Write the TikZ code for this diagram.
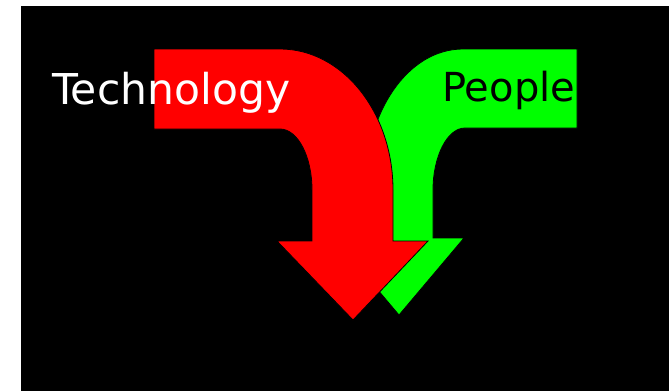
\documentclass[tikz,border=0pt]{standalone}
\usepackage{fontspec}
\newfontfamily\labelfont{DejaVu Sans}
\begin{document}
\begin{tikzpicture}[x=1pt,y=-1pt,
  arrowshape/.style={draw=black,line width=0.8pt,line join=miter},
  lbl/.style={inner sep=0pt,anchor=base west,font=\labelfont}]
\useasboundingbox (0,0) rectangle (669,391);
\fill[white] (0,0) rectangle (669,391);
\fill[black] (21,6) rectangle (669,391);
% green arrow (behind)
\path[arrowshape,fill={rgb,255:red,0;green,255;blue,0}]
  (577,49) -- (463,49) .. controls (407.8,49) and (365,112.1) .. (365,190)
  -- (365,238) -- (334,238) -- (399,315) -- (464,238) -- (433,238) -- (433,190)
  .. controls (433,156.3) and (447.3,128) .. (465,128) -- (577,128) -- cycle;
% red arrow
\path[arrowshape,fill={rgb,255:red,255;green,0;blue,0}]
  (154,49) -- (280,49) .. controls (342.4,49) and (393,112.1) .. (393,190)
  -- (393,241) -- (428,241) -- (353,320) -- (277,241) -- (312,241) -- (312,190)
  .. controls (312,156.3) and (297.7,129) .. (280,129) -- (154,129) -- cycle;
\node[lbl,text=white,font=\labelfont\fontsize{42.5}{42.5}\selectfont] (tech) at (52,104) {Technology};
\node[lbl,text=black,font=\labelfont\fontsize{40}{40}\selectfont] (people) at (442,101) {People};
\end{tikzpicture}
\end{document}
